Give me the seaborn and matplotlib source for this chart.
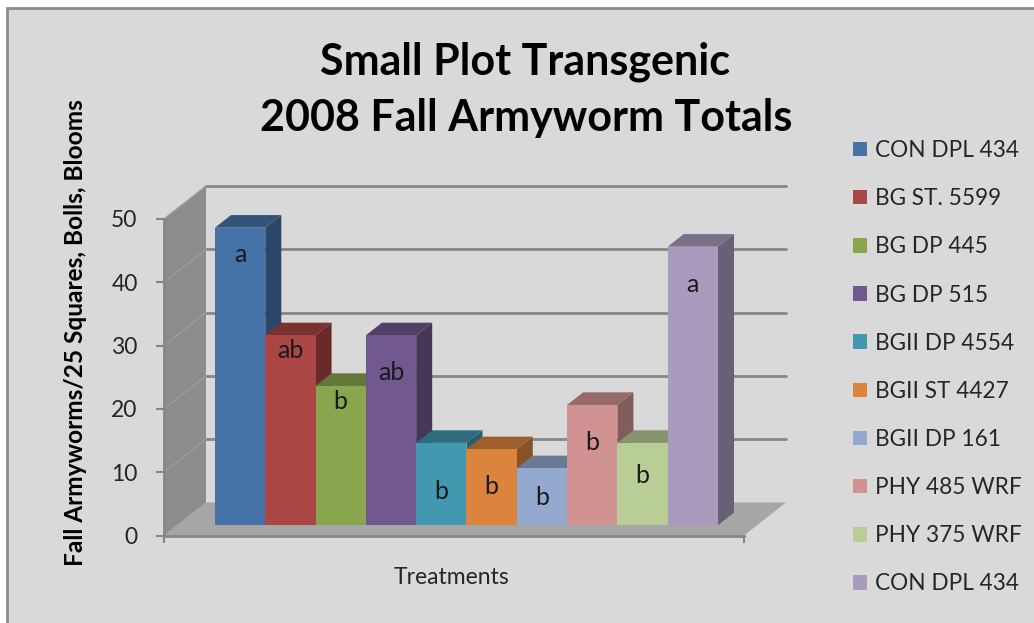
import pandas as pd
import seaborn as sns
import matplotlib.pyplot as plt
from matplotlib.patches import Polygon, Rectangle, Patch

treatments = ['CON DPL 434', 'BG ST. 5599', 'BG DP 445', 'BG DP 515', 'BGII DP 4554',
              'BGII ST 4427', 'BGII DP 161', 'PHY 485 WRF', 'PHY 375 WRF', 'CON DPL 434']
totals = [47, 30, 22, 30, 13, 12, 9, 19, 13, 44]
letters = ['a', 'ab', 'b', 'ab', 'b', 'b', 'b', 'b', 'b', 'a']
letter_y = [42.8, 27.6, 19.5, 24.1, 5.4, 6.1, 4.4, 13.1, 7.8, 38.0]
colors = ['#4572A7', '#AA4643', '#89A54E', '#71588F', '#4198AF',
          '#DB843D', '#93A9CF', '#D19392', '#B9CD96', '#A99BBD']
y_ticks = [0, 10, 20, 30, 40, 50]
title_lines = ['Small Plot Transgenic', '2008 Fall Armyworm Totals']

W, H = 1034, 623
sns.set_theme(style='white')
plt.rcParams['font.family'] = ['Lato', 'DejaVu Sans']


def shade(hex_color, f):
    r, g, b = (int(hex_color[i:i + 2], 16) / 255 for i in (1, 3, 5))
    return (r * f, g * f, b * f)


fig = plt.figure(figsize=(W / 100, H / 100), dpi=100, facecolor='white')
fig.add_artist(Rectangle((7 / W, -0.1), 1.2, 1.1 - 8 / H, transform=fig.transFigure,
                         facecolor='#d9d9d9', edgecolor='#8c8c8c', lw=2, zorder=0))

ax = fig.add_axes([164 / W, (H - 535.5) / H, 580 / W, 316.5 / H])
ax.set_facecolor('none')

df = pd.DataFrame({'slot': [f'T{i + 1}' for i in range(len(totals))], 'total': totals})
sns.barplot(data=df, x='slot', y='total', hue='slot', palette=colors, legend=False,
            width=1.0, saturation=1, linewidth=0, ax=ax)

x0, x1 = -1.255, 10.275
ax.set_xlim(x0, x1)
ax.set_ylim(0, 50)

# pixel -> data units (axes has a fixed size)
ux = 580 / (x1 - x0)
uy = 316.5 / 50


def off(px, py):
    return px / ux, py / uy


bx, by = off(13, 10.3)     # front face of the bars
dbx, dby = off(16, 12.6)   # depth of a bar
tx, ty = off(42, 33)       # depth to back wall

grid_c = '#868686'
# back wall gridlines
for v in y_ticks[1:]:
    ax.plot([x0 + tx, x1 + tx], [v + ty, v + ty], color=grid_c, lw=2, zorder=1, clip_on=False)
# left side wall
ax.add_patch(Polygon([(x0, 0), (x0, 50), (x0 + tx, 50 + ty), (x0 + tx, ty)],
                     closed=True, facecolor='#8c8c8c', edgecolor='none', zorder=1.5, clip_on=False))
for v in y_ticks:
    ax.plot([x0, x0 + tx], [v, v + ty], color='#9c9c9c', lw=1, zorder=1.6, clip_on=False)
# floor
ax.add_patch(Polygon([(x0, 0), (x1, 0), (x1 + tx, ty), (x0 + tx, ty)],
                     closed=True, facecolor='#a6a6a6', edgecolor='none', zorder=2, clip_on=False))

# bars: move front faces back, add top and side faces
for i, p in enumerate(ax.patches[:len(totals)]):
    xl = p.get_x() + bx
    w = p.get_width()
    h = p.get_height()
    xr = xl + w
    z = 3 + i * 0.1
    p.set_xy((xl, by))
    p.set_zorder(z + 0.02)
    p.set_clip_on(False)
    ax.add_patch(Polygon([(xr, by), (xr, by + h), (xr + dbx, by + h + dby), (xr + dbx, by + dby)],
                         closed=True, facecolor=shade(colors[i], 0.62), edgecolor='none',
                         zorder=z, clip_on=False))
    ax.add_patch(Polygon([(xl, by + h), (xr, by + h), (xr + dbx, by + h + dby), (xl + dbx, by + h + dby)],
                         closed=True, facecolor=shade(colors[i], 0.72), edgecolor='none',
                         zorder=z + 0.01, clip_on=False))
    ax.text(xl + w / 2, letter_y[i] + by, letters[i], ha='center', va='center',
            fontsize=18, color='#1a1a1a', zorder=10)

for s in ['top', 'right']:
    ax.spines[s].set_visible(False)
for s in ['left', 'bottom']:
    ax.spines[s].set_color(grid_c)
    ax.spines[s].set_linewidth(2)
ax.set_yticks(y_ticks)
ax.set_xticks([x0, x1])
ax.set_xticklabels([])
ax.tick_params(axis='y', left=True, length=6, width=1.5, color=grid_c, pad=13,
               labelsize=16.5, labelcolor='#262626')
ax.tick_params(axis='x', bottom=True, length=5, width=1.5, color=grid_c)
ax.set_xlabel('')
ax.set_ylabel('')

fig.text(525 / W, 1 - 75 / H, title_lines[0], ha='center', va='baseline',
         fontsize=31, fontweight='bold', color='black')
fig.text(526 / W, 1 - 131.5 / H, title_lines[1], ha='center', va='baseline',
         fontsize=31, fontweight='bold', color='black')
fig.text(76 / W, 1 - 333 / H, 'Fall Armyworms/25 Squares, Bolls, Blooms', rotation=90,
         ha='center', va='center', fontsize=17.6, fontweight='bold', color='black')
fig.text(452 / W, 1 - 578 / H, 'Treatments', ha='center', va='center', fontsize=16.5, color='#262626')

handles = [Patch(facecolor=c, edgecolor='none') for c in colors]
fig.legend(handles, treatments, loc='upper left', bbox_to_anchor=(853 / W, 1 - 140 / H),
           frameon=False, fontsize=16.3, handlelength=0.6, handleheight=0.6,
           handletextpad=0.35, labelspacing=1.2, borderaxespad=0, borderpad=0)

fig.savefig('out.png', dpi=100, facecolor=fig.get_facecolor())
